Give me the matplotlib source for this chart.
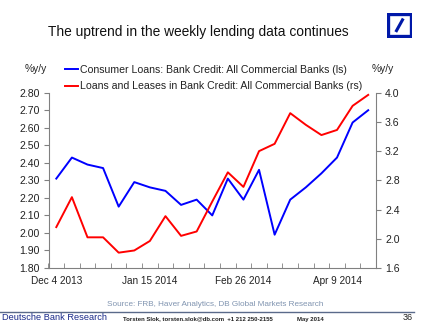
import numpy as np
import pandas as pd
import matplotlib
matplotlib.use("Agg")
import matplotlib.pyplot as plt
from matplotlib.patches import Rectangle
from matplotlib.lines import Line2D

plt.rcParams['font.family'] = ['Liberation Sans', 'DejaVu Sans']

# weekly observations, Dec 4 2013 .. Apr 23 2014
weeks = pd.date_range("2013-12-04", periods=21, freq="7D")
consumer_loans = [2.31, 2.43, 2.39, 2.37, 2.15, 2.29, 2.26, 2.24, 2.16, 2.19, 2.10,
                  2.31, 2.19, 2.36, 1.99, 2.19, 2.26, 2.34, 2.43, 2.63, 2.70]
loans_leases = [2.16, 2.57, 2.02, 2.02, 1.81, 1.84, 1.97, 2.31, 2.04, 2.10, 2.51,
                2.91, 2.71, 3.20, 3.30, 3.72, 3.56, 3.42, 3.49, 3.82, 3.97]
label_weeks = ["2013-12-04", "2014-01-15", "2014-02-26", "2014-04-09"]
label_text = ["Dec 4 2013", "Jan 15 2014", "Feb 26 2014", "Apr 9 2014"]
left_ticks = np.arange(1.80, 2.81, 0.10)
right_ticks = np.arange(1.6, 4.01, 0.4)

W, H = 425, 336
fig = plt.figure(figsize=(W / 100, H / 100), dpi=100)
ax = fig.add_axes([48.5 / W, 1 - 268 / H, (376 - 48.5) / W, (268 - 92.7) / H])
ax2 = ax.twinx()

spine_col = "#808080"
txt_col = "#222222"

l1, = ax.plot(weeks, consumer_loans, color="#0000ff", lw=1.4)
l2, = ax2.plot(weeks, loans_leases, color="#ff0000", lw=1.4)

half = pd.Timedelta(days=3.5)
ax.set_xlim(weeks[0] - half, weeks[-1] + half)
ax.set_ylim(1.80, 2.80)
ax2.set_ylim(1.6, 4.0)
ax.set_yticks(left_ticks)
ax.set_yticklabels([f"{v:.2f}" for v in left_ticks])
ax2.set_yticks(right_ticks)
ax2.set_yticklabels([f"{v:.1f}" for v in right_ticks])

ax.set_xticks(pd.to_datetime(label_weeks))
ax.set_xticklabels(label_text)
ax.set_xticks(list(weeks - half) + [weeks[-1] + half], minor=True)
ax.tick_params(axis="x", which="major", length=0, pad=6, labelsize=7.2, colors=txt_col)
ax.tick_params(axis="x", which="minor", direction="in", length=3.5, color=spine_col)
ax.tick_params(axis="y", direction="out", length=3.5, color=spine_col,
               labelsize=7.6, labelcolor=txt_col, pad=3)
ax2.tick_params(axis="y", direction="out", length=3.5, color=spine_col,
                labelsize=7.6, labelcolor=txt_col, pad=3)

for a in (ax, ax2):
    a.spines["top"].set_visible(False)
    for s in ("left", "right", "bottom"):
        a.spines[s].set_color(spine_col)
ax.spines["right"].set_visible(False)
ax2.spines["left"].set_visible(False)
ax2.spines["bottom"].set_visible(False)

# title and unit labels
fig.text(198 / W, 1 - 32 / H, "The uptrend in the weekly lending data continues",
         ha="center", va="center", fontsize=9.9, color="#111111")
fig.text(36 / W, 1 - 69 / H, "%y/y", ha="center", va="center", fontsize=7.4, color=txt_col)
fig.text(383 / W, 1 - 69 / H, "%y/y", ha="center", va="center", fontsize=7.4, color=txt_col)

fig.legend([l1, l2],
           ["Consumer Loans: Bank Credit: All Commercial Banks (ls)",
            "Loans and Leases in Bank Credit: All Commercial Banks (rs)"],
           loc="center left", bbox_to_anchor=(60 / W, 1 - 78 / H), frameon=False,
           fontsize=7.6, handlelength=1.2, handletextpad=0.2, labelspacing=0.65,
           borderpad=0, labelcolor=txt_col)

# logo
lax = fig.add_axes([387 / W, 1 - 37.5 / H, 25 / W, 24.5 / H])
lax.set_xlim(0, 1)
lax.set_ylim(0, 1)
lax.axis("off")
lax.add_patch(Rectangle((0.05, 0.05), 0.9, 0.9, fill=False, ec="#0018a8", lw=2.4))
lax.add_line(Line2D([0.38, 0.62], [0.28, 0.72], color="#0018a8", lw=2.2))

# footer
fig.text(215 / W, 1 - 305 / H, "Source: FRB, Haver Analytics, DB Global Markets Research",
         ha="center", va="center", fontsize=5.9, color="#8094b0")
fig.add_artist(Line2D([0, 414 / W], [1 - 312 / H] * 2, color="#5a6a8a", lw=1))
fig.text(2 / W, 1 - 318 / H, "Deutsche Bank Research", ha="left", va="center",
         fontsize=6.7, color="#1a2a8a")
fig.text(123 / W, 1 - 319 / H, "Torsten Slok, torsten.slok@db.com  +1 212 250-2155",
         ha="left", va="center", fontsize=4.3, color="#222222", fontweight="bold")
fig.text(297 / W, 1 - 319 / H, "May 2014", ha="left", va="center",
         fontsize=4.3, color="#222222", fontweight="bold")
fig.text(403 / W, 1 - 318 / H, "36", ha="left", va="center", fontsize=6.5, color="#222222")

fig.savefig("out.png", dpi=100)
